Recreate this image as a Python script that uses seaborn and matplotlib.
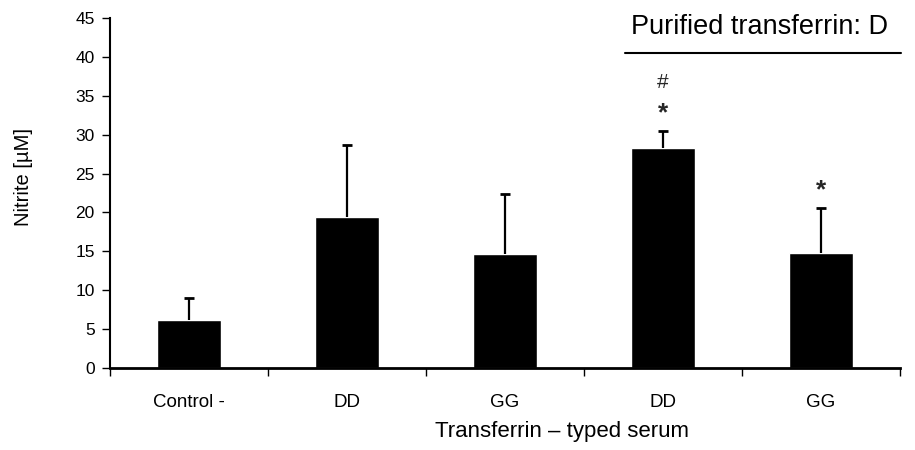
import matplotlib
matplotlib.use("Agg")
import matplotlib.pyplot as plt
from matplotlib.ticker import FixedLocator
import seaborn as sns
import pandas as pd
import numpy as np

# Nitrite production per transferrin type
groups = ["ctrl", "serum_DD", "serum_GG", "pure_DD", "pure_GG"]
tick_labels = ["Control -", "DD", "GG", "DD", "GG"]
nitrite = [6.2, 19.4, 14.6, 28.3, 14.8]
sd = [2.8, 9.3, 7.8, 2.2, 5.8]
marks = ["", "", "", "*", "*"]
marks_hash = ["", "", "", "#", ""]

sns.set_theme(style="white")
plt.rcParams["font.family"] = ["Liberation Sans", "DejaVu Sans"]

df = pd.DataFrame({"group": groups, "nitrite": nitrite})

fig = plt.figure(figsize=(9.15, 4.5), dpi=100)
ax = fig.add_axes([110 / 915, 1 - 368 / 450, 790 / 915, 350 / 450])

sns.barplot(data=df, x="group", y="nitrite", order=groups, color="black",
            saturation=1, width=0.405, errorbar=None, ax=ax)

# one-sided (upper) error bars with a cap only at the top
pos = np.arange(len(groups))
tops = np.array(nitrite) + np.array(sd)
ax.vlines(pos, nitrite, tops, color="black", linewidth=1.6, zorder=3)
ax.hlines(tops, pos - 0.032, pos + 0.032, color="black", linewidth=2.0,
          zorder=3)

for x, top, m, h in zip(pos, tops, marks, marks_hash):
    if m:
        ax.text(x, top + 2.3, m, ha="center", va="center", fontsize=19,
                fontweight="bold")
    if h:
        ax.text(x, top + 6.2, h, ha="center", va="center", fontsize=15)

ax.set_xlim(-0.5, len(groups) - 0.5)
ax.set_ylim(0, 45)
ax.set_yticks(range(0, 46, 5))
ax.set_xticks(pos)
ax.set_xticklabels(tick_labels)
ax.xaxis.set_minor_locator(FixedLocator(np.arange(-0.5, len(groups), 1.0)))
ax.tick_params(axis="x", which="major", length=0, pad=18.5, labelsize=13.5,
               colors="black")
ax.tick_params(axis="x", which="minor", length=6, width=1, color="black",
               direction="out", bottom=True)
ax.tick_params(axis="y", length=6, width=1, color="black", direction="out",
               left=True, labelsize=12.5, labelcolor="black", pad=5)

for side in ["top", "right"]:
    ax.spines[side].set_visible(False)
ax.spines["left"].set_color("black")
ax.spines["left"].set_linewidth(1.5)
ax.spines["bottom"].set_color("black")
ax.spines["bottom"].set_linewidth(2.0)

ax.set_xlabel("")
ax.set_ylabel("Nitrite [µM]", fontsize=14.5, color="black")
ax.yaxis.set_label_coords(-0.0975, 0.546)
fig.text(562 / 915, 1 - 437 / 450, "Transferrin – typed serum", ha="center",
         va="baseline", fontsize=16, color="black")

# Header over the purified transferrin groups
fig.text(631 / 915, 1 - 27 / 450, "Purified transferrin: D",
         ha="left", va="center", fontsize=19.5, color="black")
fig.add_artist(plt.Line2D([625 / 915, 901 / 915], [1 - 53 / 450, 1 - 53 / 450],
                          color="black", linewidth=1.5))

fig.savefig("out.png", dpi=100)
